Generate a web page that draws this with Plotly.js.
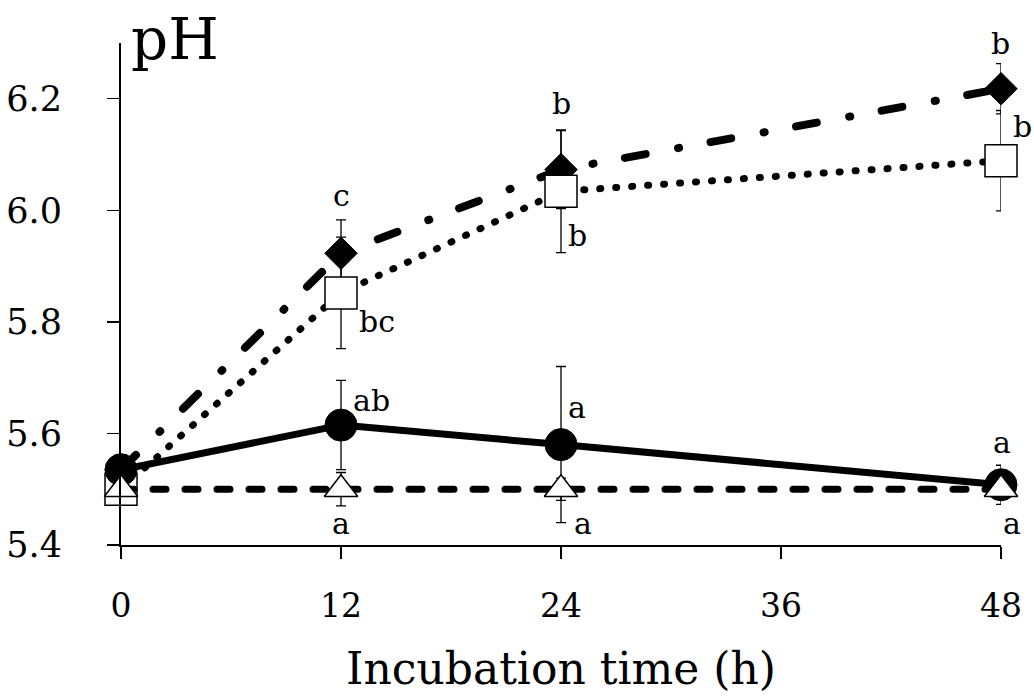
<!DOCTYPE html>
<html>
<head>
<meta charset="utf-8">
<script src="https://cdn.plot.ly/plotly-3.0.1.min.js"></script>
<style>
  html, body { margin: 0; padding: 0; background: #fff; }
  #chart { width: 1034px; height: 698px; }
  .scatterlayer .js-line { stroke-linecap: round; stroke-linejoin: round; }
</style>
</head>
<body>
<div id="chart"></div>
<script>
// ---- data ----
var hours = [0, 12, 24, 48];
var xTicks = [0, 12, 24, 36, 48];
var yTicks = [5.4, 5.6, 5.8, 6.0, 6.2];
var yTickLabels = ['5.4', '5.6', '5.8', '6.0', '6.2'];

var circleVals = [5.535, 5.615, 5.58, 5.508];
var circleErr  = [0.01, 0.08, 0.14, 0.035];
var triangleVals = [5.50, 5.50, 5.50, 5.50];
var triangleErr  = [0.0, 0.03, 0.02, 0.0];
var squareVals = [5.50, 5.852, 6.034, 6.089];
var squareErr  = [0.01, 0.10, 0.11, 0.09];
var diamondVals = [5.535, 5.923, 6.073, 6.218];
var diamondErr  = [0.01, 0.06, 0.07, 0.045];

var circleLetters   = ['', 'ab', 'a', 'a'];
var triangleLetters = ['', 'a', 'a', 'a'];
var squareLetters   = ['', 'bc', 'b', 'b'];
var diamondLetters  = ['', 'c', 'b', 'b'];

var xTitle = 'Incubation time (h)';
var yTitle = 'pH';

// ---- style ----
var FONT = '"DejaVu Serif", "Liberation Serif", serif';
var ebar = function (arr) {
  return { type: 'data', array: arr, visible: true, color: '#000', thickness: 1.3, width: 5 };
};

var traces = [
  { // diamond, dash-dot
    x: hours, y: diamondVals, type: 'scatter', mode: 'lines+markers', cliponaxis: false,
    line: { color: '#000', width: 8, dash: '21px,33px,1px,32px' },
    marker: { symbol: 'diamond', size: 25, color: '#000', line: { color: '#000', width: 1 } },
    error_y: ebar(diamondErr)
  },
  { // square, dotted
    x: hours, y: squareVals, type: 'scatter', mode: 'lines+markers', cliponaxis: false,
    line: { color: '#000', width: 7, dash: '1px,15px' },
    marker: { symbol: 'square', size: 32, color: '#fff', line: { color: '#000', width: 1.5 } },
    error_y: ebar(squareErr)
  },
  { // circle, solid
    x: hours, y: circleVals, type: 'scatter', mode: 'lines+markers', cliponaxis: false,
    line: { color: '#000', width: 7 },
    marker: { symbol: 'circle', size: 32, color: '#000', line: { color: '#000', width: 1 } },
    error_y: ebar(circleErr)
  },
  { // triangle, dashed
    x: hours, y: triangleVals, type: 'scatter', mode: 'lines+markers', cliponaxis: false,
    line: { color: '#000', width: 7, dash: '13px,19px' },
    marker: { symbol: 'triangle-up', size: 29, color: '#fff', line: { color: '#000', width: 1.5 } },
    error_y: ebar(triangleErr)
  }
];

// label offsets in pixels (dx right, dy down) relative to each point
var groups = [
  { vals: diamondVals,  letters: diamondLetters,  off: [null, [0, -58], [0, -66], [-1, -45]] },
  { vals: squareVals,   letters: squareLetters,   off: [null, [36, 29], [16, 44], [21, -34]] },
  { vals: circleVals,   letters: circleLetters,   off: [null, [30, -25], [16, -37], [1, -42]] },
  { vals: triangleVals, letters: triangleLetters, off: [null, [0, 34], [22, 34], [11, 34]] }
];

var annotations = [];
groups.forEach(function (g) {
  hours.forEach(function (h, i) {
    if (!g.letters[i]) return;
    annotations.push({
      x: h, y: g.vals[i], xref: 'x', yref: 'y', text: g.letters[i], showarrow: false,
      xanchor: 'center', yanchor: 'middle',
      xshift: g.off[i][0], yshift: -g.off[i][1],
      font: { family: FONT, size: 30, color: '#000' }
    });
  });
});
annotations.push({
  x: 0, y: 1, xref: 'paper', yref: 'paper', text: yTitle, showarrow: false,
  xanchor: 'left', yanchor: 'middle', xshift: 8, yshift: 4,
  font: { family: FONT, size: 58, color: '#000' }
});

var layout = {
  width: 1034, height: 698,
  margin: { l: 121, r: 33, t: 43, b: 153, pad: 0 },
  paper_bgcolor: '#fff', plot_bgcolor: '#fff',
  showlegend: false,
  font: { family: FONT, color: '#000' },
  xaxis: {
    range: [0, 48], tickvals: xTicks, ticktext: xTicks.map(String),
    showgrid: false, zeroline: false, showline: true, linecolor: '#000', linewidth: 2,
    ticks: 'outside', ticklen: 12, tickwidth: 1.3, tickcolor: '#000',
    tickfont: { family: FONT, size: 33, color: '#000' }, ticklabelstandoff: 18,
    title: { text: xTitle, font: { family: FONT, size: 44, color: '#000' }, standoff: 30 }
  },
  yaxis: {
    range: [5.4, 6.3], tickvals: yTicks, ticktext: yTickLabels,
    showgrid: false, zeroline: false, showline: true, linecolor: '#000', linewidth: 2,
    ticks: 'outside', ticklen: 12, tickwidth: 1.3, tickcolor: '#000',
    tickfont: { family: FONT, size: 35, color: '#000' }, ticklabelstandoff: 38
  },
  annotations: annotations
};

Plotly.newPlot('chart', traces, layout, { staticPlot: true, displayModeBar: false });
</script>
</body>
</html>
